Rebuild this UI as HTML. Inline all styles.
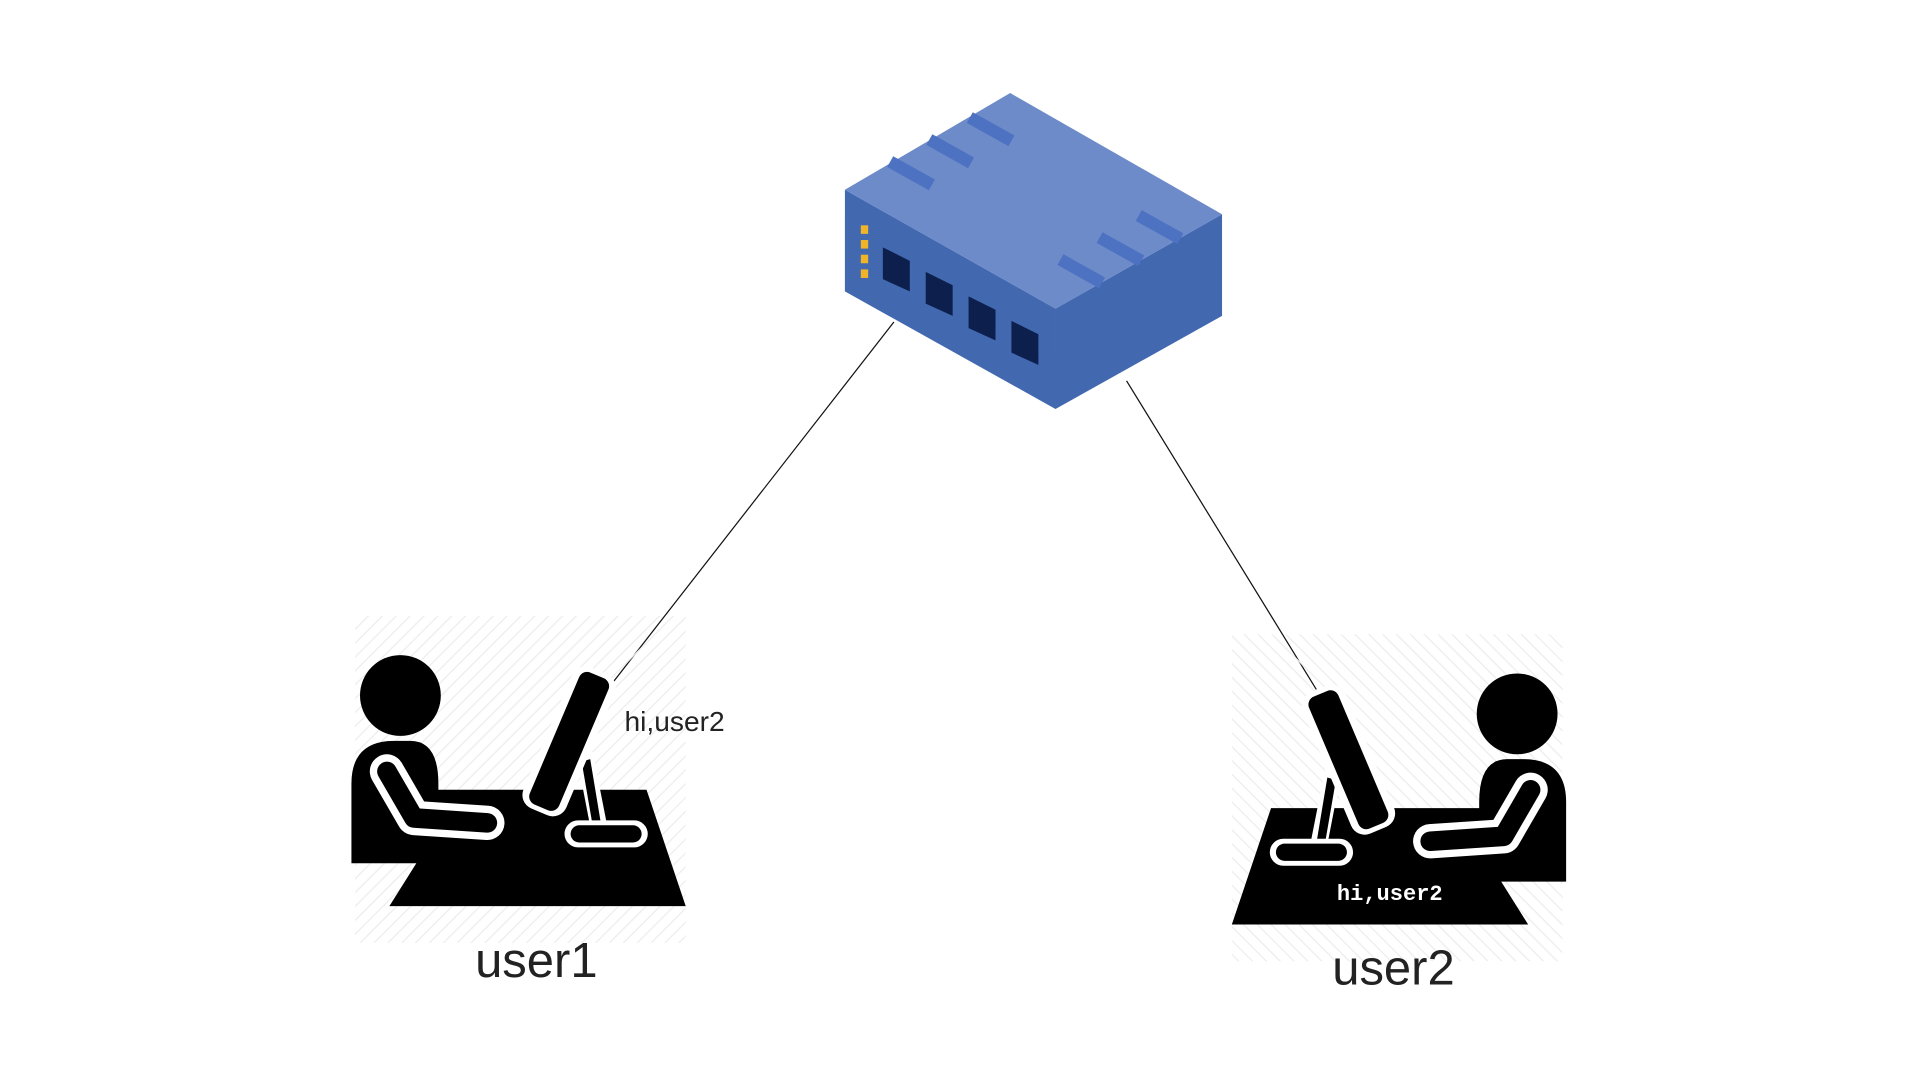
<!DOCTYPE html>
<html><head><style>html,body{margin:0;padding:0;background:#fff}svg{display:block}</style></head><body>
<svg width="1920" height="1080" viewBox="0 0 1568 882" xmlns="http://www.w3.org/2000/svg">
<defs>
<pattern id="h" width="8" height="8" patternUnits="userSpaceOnUse" patternTransform="rotate(45)">
<line x1="0" y1="0" x2="0" y2="8" stroke="#ececec" stroke-width="2"/>
</pattern>
<g id="fig">
<rect x="290" y="503" width="270" height="267" fill="url(#h)"/>
<circle cx="327" cy="568" r="33" fill="#000"/>
<path d="M287 705 L287 640 Q287 605 322 605 L335 605 Q358 605 358 640 L358 645 L383 645 L528 645 L560 740 L318 740 L340 705 Z" fill="#000"/>
<polyline points="316,630 338,668 398,672" fill="none" stroke="#fff" stroke-width="28" stroke-linecap="round" stroke-linejoin="round"/>
<polyline points="316,630 338,668 398,672" fill="none" stroke="#000" stroke-width="16" stroke-linecap="round" stroke-linejoin="round"/>
<polygon points="471,618 484,614 497,680 483,680" fill="#fff"/>
<polygon points="475,622 482,620 492,680 485,680" fill="#000"/>
<rect x="461" y="670" width="68" height="22" rx="11" fill="#fff"/>
<rect x="466" y="674" width="58" height="14" rx="7" fill="#000"/>
<g transform="rotate(23 465 605)">
<rect x="446" y="543" width="38" height="125" rx="12" fill="#fff"/>
<rect x="452" y="547" width="26" height="117" rx="7" fill="#000"/>
</g>
</g>
</defs>
<line x1="730" y1="263" x2="500" y2="558" stroke="#111" stroke-width="1"/>
<line x1="920" y1="311" x2="1075" y2="563" stroke="#111" stroke-width="1"/>
<polygon points="690,155 862,252 862,334 690,238" fill="#4268b0"/>
<polygon points="862,252 998,175 998,258 862,334" fill="#4268b0"/>
<polygon points="825,76 998,175 862,252 690,155" fill="#6d8ac9"/>
<g stroke="#4d72c1" stroke-width="10">
<line x1="792" y1="96" x2="826" y2="115"/>
<line x1="759" y1="114" x2="793" y2="133"/>
<line x1="727" y1="132" x2="761" y2="151"/>
<line x1="930" y1="176" x2="964" y2="195"/>
<line x1="898" y1="194" x2="932" y2="213"/>
<line x1="866" y1="212" x2="900" y2="231"/>
</g>
<g fill="#f0b429">
<rect x="703" y="184" width="6" height="7"/><rect x="703" y="196" width="6" height="7"/>
<rect x="703" y="208" width="6" height="7"/><rect x="703" y="220" width="6" height="7"/>
</g>
<g fill="#0d1f4d">
<polygon points="721,202 743,213 743,238 721,228"/>
<polygon points="756,222 778,233 778,258 756,248"/>
<polygon points="791,242 813,253 813,278 791,268"/>
<polygon points="826,262 848,273 848,298 826,288"/>
</g>
<use href="#fig"/>
<use href="#fig" transform="translate(1566,15) scale(-1,1)"/>
<text x="510" y="597" font-family="Liberation Sans, sans-serif" font-size="23" fill="#222">hi,user2</text>
<text x="438" y="798" text-anchor="middle" font-family="Liberation Sans, sans-serif" font-size="40" fill="#222">user1</text>
<text x="1135" y="735" text-anchor="middle" font-family="Liberation Mono, monospace" font-weight="bold" font-size="18" fill="#fff">hi,user2</text>
<text x="1138" y="804" text-anchor="middle" font-family="Liberation Sans, sans-serif" font-size="40" fill="#222">user2</text>
</svg>
</body></html>
